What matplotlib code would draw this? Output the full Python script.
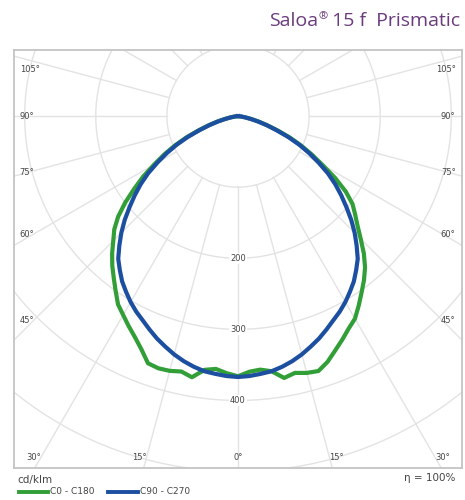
import numpy as np
import matplotlib.pyplot as plt

# photometric data, cd/klm, angle from nadir (deg)
angles = [0, 2.5, 5, 7.5, 10, 12.5, 15, 17.5, 20, 22.5, 25, 27.5, 30, 32.5, 35, 37.5, 40,
          42.5, 45, 47.5, 50, 52.5, 55, 57.5, 60, 62.5, 65, 67.5, 70, 72.5, 75, 77.5, 80,
          82.5, 85, 90]
c90_c270 = [367, 366, 364, 362, 358, 353, 347, 340, 333, 325, 317, 310, 302, 293, 284, 273, 262,
            247, 232, 216, 199, 183, 167, 150, 131, 113, 95, 76, 57, 42, 29, 18, 10,
            5, 2, 0]
c0 = [366, 362, 357, 360, 373, 368, 371, 372, 370, 355, 343, 333, 323, 314, 300, 287, 275,
      262, 248, 236, 220, 200, 178, 158, 136, 117, 98, 79, 60, 44, 31, 20, 11,
      5, 2, 0]
c180 = [366, 360, 358, 362, 374, 370, 374, 376, 368, 357, 347, 337, 329, 316, 303, 291, 278,
        262, 244, 228, 215, 203, 185, 162, 137, 117, 98, 79, 60, 44, 31, 20, 11,
        5, 2, 0]

rings = [100, 200, 300, 400, 500, 600]
ring_labels = [200, 300, 400]
spokes = np.arange(0, 360, 15)
side_angles = [45, 60, 75, 90, 105]
bottom_angles = [0, 15, 30]

title_parts = ["Saloa", "\u00ae", " 15 f  Prismatic"]
unit = "cd/klm"
eta = "\u03b7 = 100%"
names = ["C0 - C180", "C90 - C270"]

green = "#319e37"
blue = "#1c4fa0"
grid_c = "#e3e3e3"
txt_c = "#444444"
title_c = "#6a3b7c"


def to_xy(theta_deg, r):
    t = np.radians(np.asarray(theta_deg, dtype=float))
    r = np.asarray(r, dtype=float)
    return r * np.sin(t), -r * np.cos(t)


fig = plt.figure(figsize=(4.65, 5.0), dpi=100)
ax = fig.add_axes([0.0301, 0.064, 0.9634, 0.836])
ax.set_xlim(-315, 315)
ax.set_ylim(-495, 93)
ax.set_xticks([])
ax.set_yticks([])
for s in ax.spines.values():
    s.set_color("#c4c4c4")
    s.set_linewidth(1.3)

# grid
tt = np.linspace(0, 360, 361)
for r in rings:
    x, y = to_xy(tt, np.full_like(tt, r))
    ax.plot(x, y, color=grid_c, lw=1.0, zorder=1)
for a in spokes:
    x, y = to_xy([a, a], [100, 800])
    ax.plot(x, y, color=grid_c, lw=1.0, zorder=1)

# curves (C0 on the left, C180 on the right)
th = np.array(angles)
x, y = to_xy(np.concatenate([-th[::-1], th]), np.concatenate([c0[::-1], c180]))
ax.plot(x, y, color=green, lw=3.0, zorder=3)
x, y = to_xy(np.concatenate([-th[::-1], th]), np.concatenate([c90_c270[::-1], c90_c270]))
ax.plot(x, y, color=blue, lw=3.0, zorder=4)

# radial labels
for r in ring_labels:
    ax.text(0, -r, str(r), ha="center", va="center", fontsize=6, color=txt_c, zorder=5,
            bbox=dict(fc="white", ec="none", pad=0.6))

# angle labels on the sides (vertical spot)
side_y = {105: 66, 90: 0, 75: -79, 60: -166, 45: -287}
for a in side_angles:
    ax.text(-307, side_y[a], f"{a}\u00b0", ha="left", va="center", fontsize=6, color=txt_c)
    ax.text(306, side_y[a], f"{a}\u00b0", ha="right", va="center", fontsize=6, color=txt_c)

# angle labels at the bottom
yb = -480
for a in bottom_angles:
    xx = -yb * np.tan(np.radians(a))
    if a == 0:
        ax.text(0, yb, "0\u00b0", ha="center", va="center", fontsize=6, color=txt_c)
    else:
        ax.text(-xx, yb, f"{a}\u00b0", ha="right", va="center", fontsize=6, color=txt_c)
        ax.text(xx, yb, f"{a}\u00b0", ha="left", va="center", fontsize=6, color=txt_c)

# title, right aligned, with a small raised (R)
renderer = fig.canvas.get_renderer()
t3 = fig.text(0.99, 0.958, title_parts[2], ha="right", va="center", fontsize=14,
              color=title_c, family="Open Sans")
x3 = fig.transFigure.inverted().transform(t3.get_window_extent(renderer))[0][0]
t2 = fig.text(x3, 0.966, title_parts[1], ha="right", va="center", fontsize=8,
              color=title_c, family="Open Sans")
x2 = fig.transFigure.inverted().transform(t2.get_window_extent(renderer))[0][0]
fig.text(x2, 0.958, title_parts[0], ha="right", va="center", fontsize=14,
         color=title_c, family="Open Sans")

fig.text(0.038, 0.04, unit, ha="left", va="center", fontsize=7.5, color=txt_c)
fig.text(0.98, 0.044, eta, ha="right", va="center", fontsize=7.5, color=txt_c)

# legend
fig.lines.append(plt.Line2D([0.041, 0.103], [0.016, 0.016], color=green, lw=2.8,
                            transform=fig.transFigure))
fig.text(0.108, 0.016, names[0], ha="left", va="center", fontsize=6.5, color=txt_c)
fig.lines.append(plt.Line2D([0.232, 0.297], [0.016, 0.016], color=blue, lw=2.8,
                            transform=fig.transFigure))
fig.text(0.302, 0.016, names[1], ha="left", va="center", fontsize=6.5, color=txt_c)

fig.savefig("out.png", dpi=100)
